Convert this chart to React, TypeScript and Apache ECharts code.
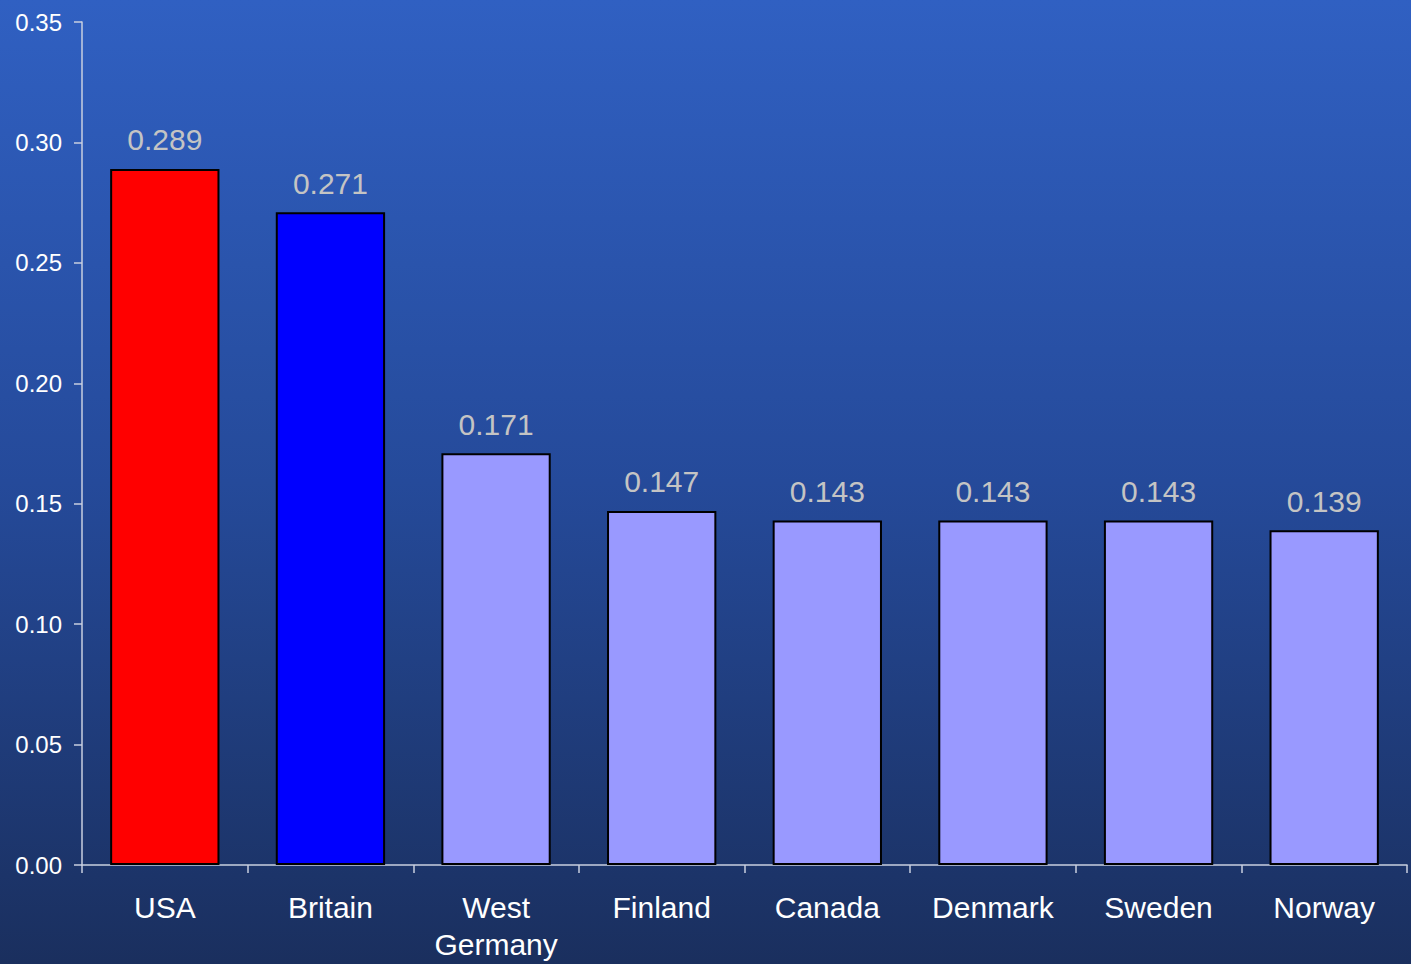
import React, { useEffect, useRef } from "react";
import * as echarts from "echarts";

const categories = ["USA", "Britain", "West\nGermany", "Finland", "Canada", "Denmark", "Sweden", "Norway"];
const values = [0.289, 0.271, 0.171, 0.147, 0.143, 0.143, 0.143, 0.139];
const barColors = ["#ff0000", "#0000ff", "#9999ff", "#9999ff", "#9999ff", "#9999ff", "#9999ff", "#9999ff"];

export default function App() {
  const ref = useRef<HTMLDivElement>(null);
  useEffect(() => {
    document.body.style.margin = "0";
    const chart = echarts.init(ref.current!, null, { renderer: "svg" });
    chart.setOption({
      animation: false,
      backgroundColor: {
        type: "linear", x: 0, y: 0, x2: 0, y2: 1,
        colorStops: [
          { offset: 0, color: "#3060c2" },
          { offset: 0.5, color: "#254a9a" },
          { offset: 1, color: "#1a2f5e" },
        ],
      },
      grid: { left: 82, right: 4, top: 22, bottom: 99, outerBoundsMode: "none", containLabel: false },
      xAxis: {
        type: "category",
        data: categories,
        axisLine: { lineStyle: { color: "#c8cfe0", width: 1.5 } },
        axisTick: { show: true, length: 8, lineStyle: { color: "#c8cfe0", width: 1.5 } },
        axisLabel: {
          color: "#ffffff",
          fontSize: 30,
          fontFamily: "Liberation Sans, Arial, sans-serif",
          margin: 24,
          lineHeight: 37,
          interval: 0,
        },
      },
      yAxis: {
        type: "value",
        min: 0,
        max: 0.35,
        interval: 0.05,
        splitLine: { show: false },
        axisLine: { show: true, lineStyle: { color: "#c8cfe0", width: 1.5 } },
        axisTick: { show: true, length: 8, lineStyle: { color: "#c8cfe0", width: 1.5 } },
        axisLabel: {
          color: "#ffffff",
          fontSize: 24,
          fontFamily: "Liberation Sans, Arial, sans-serif",
          margin: 20,
          formatter: (v: number) => v.toFixed(2),
        },
      },
      series: [
        {
          type: "bar",
          barWidth: "66%",
          data: values.map((v, i) => ({
            value: v,
            itemStyle: { color: barColors[i], borderColor: "#000000", borderWidth: 2 },
          })),
          label: {
            show: true,
            position: "top",
            distance: 14,
            color: "#c4c4c4",
            fontSize: 30,
            fontFamily: "Liberation Sans, Arial, sans-serif",
            formatter: (p: any) => p.value.toFixed(3),
          },
        },
      ],
    });
    return () => chart.dispose();
  }, []);
  return <div ref={ref} style={{ width: 1411, height: 964 }} />;
}
